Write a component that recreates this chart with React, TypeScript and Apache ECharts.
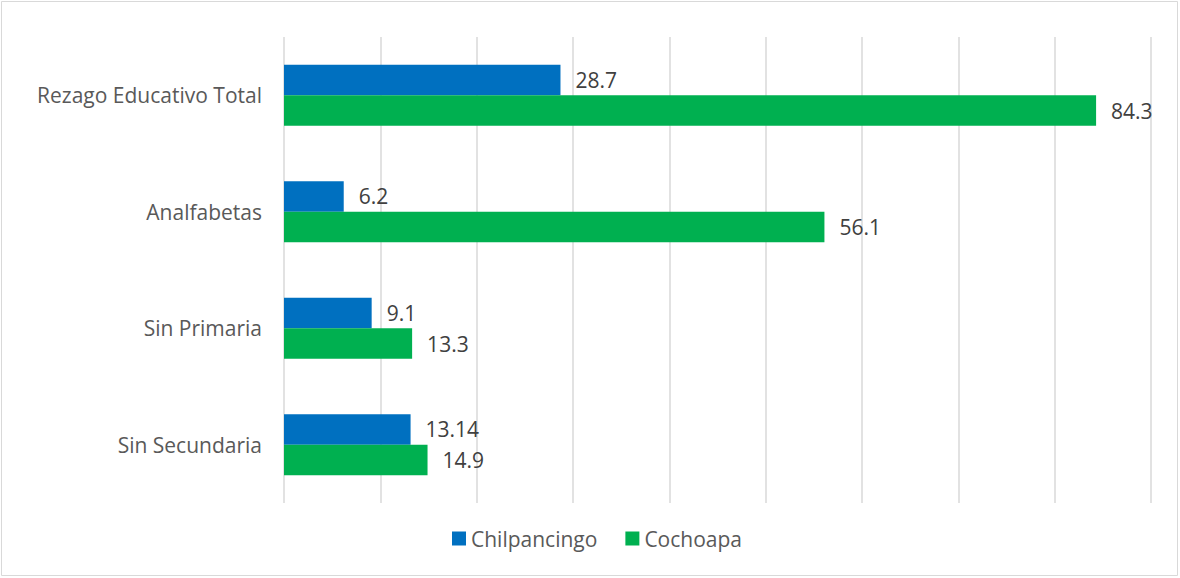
import React, { useEffect, useRef } from "react";
import * as echarts from "echarts";

const categories = ["Rezago Educativo Total", "Analfabetas", "Sin Primaria", "Sin Secundaria"];
const seriesNames = ["Chilpancingo", "Cochoapa"];
const chilpancingo = [28.7, 6.2, 9.1, 13.14];
const cochoapa = [84.3, 56.1, 13.3, 14.9];
const colors = ["#0070C0", "#00B050"];

const FONT = "Open Sans";

export default function App() {
  const ref = useRef<HTMLDivElement>(null);
  useEffect(() => {
    if (!ref.current) return;
    const chart = echarts.init(ref.current, null, { renderer: "svg" });
    const labelStyle = {
      show: true,
      position: "right" as const,
      distance: 15,
      fontSize: 21,
      color: "#404040",
      fontFamily: FONT,
    };
    chart.setOption({
      animation: false,
      backgroundColor: "#ffffff",
      textStyle: { fontFamily: FONT },
      graphic: [
        {
          type: "rect",
          shape: { x: 1.5, y: 1.5, width: 1176, height: 574 },
          style: { fill: "none", stroke: "#d9d9d9", lineWidth: 1 },
          silent: true,
        },
      ],
      grid: { left: 284, right: 29, top: 37, bottom: 75 },
      legend: {
        bottom: 24,
        left: 447,
        itemWidth: 14,
        itemHeight: 14,
        itemGap: 28,
        icon: "rect",
        textStyle: { fontSize: 21, color: "#595959", fontFamily: FONT },
        data: seriesNames,
      },
      xAxis: {
        type: "value",
        min: 0,
        max: 90,
        interval: 10,
        axisLabel: { show: false },
        axisLine: { show: false },
        axisTick: { show: false },
        splitLine: { show: true, lineStyle: { color: "#d9d9d9", width: 1.5 } },
      },
      yAxis: {
        type: "category",
        data: categories,
        inverse: true,
        axisLine: { show: false },
        axisTick: { show: false },
        axisLabel: { fontSize: 21, color: "#595959", fontFamily: FONT, margin: 22 },
      },
      series: [
        {
          name: seriesNames[0],
          type: "bar",
          data: chilpancingo,
          itemStyle: { color: colors[0] },
          barGap: "0%",
          barCategoryGap: "47.6%",
          label: labelStyle,
        },
        {
          name: seriesNames[1],
          type: "bar",
          data: cochoapa,
          itemStyle: { color: colors[1] },
          barGap: "0%",
          barCategoryGap: "47.6%",
          label: labelStyle,
        },
      ],
    });
    return () => chart.dispose();
  }, []);
  return (
    <div
      ref={ref}
      style={{ position: "fixed", left: 0, top: 0, width: 1180, height: 578 }}
    />
  );
}
